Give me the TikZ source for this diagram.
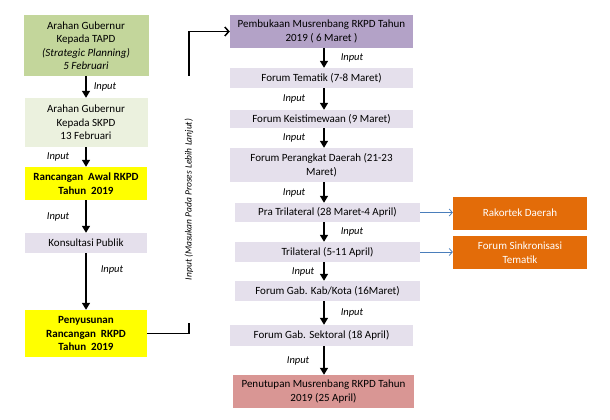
\documentclass[tikz,border=0pt]{standalone}
\usepackage{fontspec}
\setmainfont{Carlito}
\usepackage{xcolor}
\usepackage{tikz}
\usetikzlibrary{positioning,calc,arrows.meta}

\definecolor{gubgreen}{HTML}{C3D69B}
\definecolor{gubpale}{HTML}{EBF1DE}
\definecolor{rkpdyellow}{HTML}{FFFF00}
\definecolor{forumlav}{HTML}{E5E0EC}
\definecolor{bukapurple}{HTML}{B3A2C7}
\definecolor{tutuprose}{HTML}{D99694}
\definecolor{rakorange}{HTML}{E36C09}
\definecolor{sideblue}{HTML}{4A7EBB}

\begin{document}
\begin{tikzpicture}[x=1pt, y=-1pt, ->, >={Triangle[length=7pt,width=8pt]}, box/.style = {draw=none, align=center, inner sep=1pt, font=\fontsize{11}{13.5}\selectfont}, lbl/.style = {font=\fontsize{10.5}{12}\selectfont\itshape, inner sep=0pt}, every edge/.append style={line width=1.5pt}, sidearrow/.style = {-{Straight Barb[length=3pt,width=7pt]}, draw=sideblue, line width=0.8pt}]

\useasboundingbox (0,0) rectangle (610,420);

%left column
\node[box, fill=gubgreen, minimum width=125pt, minimum height=61pt] (gub1) at (86,45.5) {Arahan Gubernur\\Kepada TAPD\\\textit{(Strategic Planning)}\\\textit{5 Februari}};
\node[box, fill=gubpale, minimum width=123pt, minimum height=49pt] (gub2) at (86,122.5) {Arahan Gubernur\\Kepada SKPD\\13 Februari};
\node[box, fill=rkpdyellow, minimum width=122pt, minimum height=33pt, font=\fontsize{11}{13.5}\selectfont\bfseries] (awal) at (86,183.5) {Rancangan\ \ Awal RKPD\\Tahun\ \ 2019};
\node[box, fill=forumlav, minimum width=122pt, minimum height=20pt] (konsul) at (86,243) {Konsultasi Publik};
\node[box, fill=rkpdyellow, minimum width=122pt, minimum height=47pt, font=\fontsize{11}{13.5}\selectfont\bfseries] (susun) at (86,333.5) {Penyusunan\\Rancangan\ \ RKPD\\Tahun\ \ 2019};

%middle column
\node[box, fill=bukapurple, minimum width=183pt, minimum height=33pt] (buka) at (321.5,31.5) {Pembukaan Musrenbang RKPD Tahun\\2019 ( 6 Maret )};
\node[box, fill=forumlav, minimum width=183pt, minimum height=20pt] (tematik) at (321.5,78) {Forum Tematik (7-8 Maret)};
\node[box, fill=forumlav, minimum width=183pt, minimum height=18pt] (istimewa) at (321.5,119) {Forum Keistimewaan (9 Maret)};
\node[box, fill=forumlav, minimum width=183pt, minimum height=34pt] (perangkat) at (321.5,165) {Forum Perangkat Daerah (21-23\\Maret)};
\node[box, fill=forumlav, minimum width=185pt, minimum height=19pt] (pratri) at (327.5,212.5) {Pra Trilateral (28 Maret-4 April)};
\node[box, fill=forumlav, minimum width=185pt, minimum height=20pt] (tri) at (327.5,252) {Trilateral (5-11 April)};
\node[box, fill=forumlav, minimum width=185pt, minimum height=20pt] (kabkota) at (327.5,291) {Forum Gab. Kab/Kota (16Maret)};
\node[box, fill=forumlav, minimum width=183pt, minimum height=21pt] (sektoral) at (321.5,335.5) {Forum Gab. Sektoral (18 April)};
\node[box, fill=tutuprose, minimum width=181pt, minimum height=33pt] (tutup) at (323.5,391.5) {Penutupan Musrenbang RKPD Tahun\\2019 (25 April)};

%right column
\node[box, fill=rakorange, text=white, minimum width=134pt, minimum height=33pt] (rakortek) at (520,213) {Rakortek Daerah};
\node[box, fill=rakorange, text=white, minimum width=134pt, minimum height=33pt] (sinkron) at (520,252.5) {Forum Sinkronisasi\\Tematik};

\coordinate (ax) at (324,0);
\coordinate (bend) at (189,0);

\path
    (gub1) edge node[lbl, right=7pt] {Input} (gub2)
    (gub2) edge node[lbl, left=16pt] {Input} (awal)
    (awal) edge node[lbl, left=16pt] {Input} (konsul)
    (konsul) edge node[lbl, pos=0.3, right=14pt] {Input} (susun)
    (buka.south -| ax) edge node[lbl, right=16pt] {Input} (tematik.north -| ax)
    (tematik.south -| ax) edge node[lbl, left=18pt] {Input} (istimewa.north -| ax)
    (istimewa.south -| ax) edge node[lbl, left=18pt] {Input} (perangkat.north -| ax)
    (perangkat.south -| ax) edge node[lbl, left=18pt] {Input} (pratri.north -| ax)
    (pratri.south -| ax) edge node[lbl, right=16pt] {Input} (tri.north -| ax)
    (tri.south -| ax) edge node[lbl, left=9pt] {Input} (kabkota.north -| ax)
    (kabkota.south -| ax) edge node[lbl, right=16pt] {Input} (sektoral.north -| ax)
    (sektoral.south -| ax) edge node[lbl, left=14pt] {Input} (tutup.north -| ax);

\draw[sidearrow] (pratri.east) -- (pratri.east -| rakortek.west);
\draw[sidearrow] (tri.east) -- (tri.east -| sinkron.west);

%input to musrenbang
\draw[line width=1.5pt, -{Straight Barb[length=4pt,width=9pt]}] (susun.east) -- (susun.east -| bend) -- node[pos=0.4536, rotate=90, fill=white, minimum width=247pt, inner sep=0pt, xshift=-3pt, font=\fontsize{9.5}{11}\selectfont\itshape] {Input (Masukan Pada Proses Lebih Lanjut)} (bend |- buka.west) -- (buka.west);
\end{tikzpicture}
\end{document}
